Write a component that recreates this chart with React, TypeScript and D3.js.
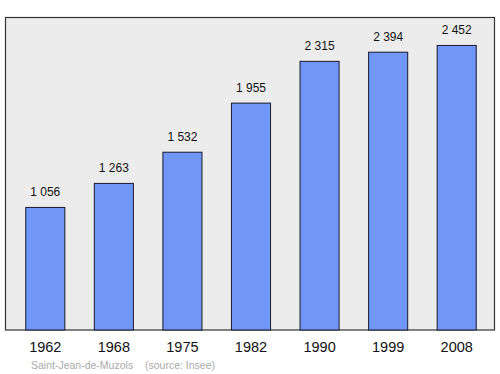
import React from "react";
import * as d3 from "d3";

const years = ["1962", "1968", "1975", "1982", "1990", "1999", "2008"];
const population = [1056, 1263, 1532, 1955, 2315, 2394, 2452];
const valueLabels = ["1 056", "1 263", "1 532", "1 955", "2 315", "2 394", "2 452"];
const footerName = "Saint-Jean-de-Muzols";
const footerSource = "(source: Insee)";

export default function App() {
  const W = 500, H = 374;
  const panel = { x: 5.5, y: 17.5, w: 489, h: 312.5 };
  const x = d3.scaleBand<string>().domain(years).range([11, 491]).paddingInner(0.43).paddingOuter(0.215);
  const y = d3.scaleLinear().domain([0, d3.max(population)! * 1.1]).range([330, 17]);
  const font = "Liberation Sans, Arial, sans-serif";
  return (
    <svg width={W} height={H} style={{ position: "absolute", left: 0, top: 0 }}>
      <rect x={panel.x} y={panel.y} width={panel.w} height={panel.h} fill="#ececec" stroke="#333" strokeWidth={1.2} />
      {population.map((v, i) => (
        <g key={years[i]}>
          <rect x={x(years[i])!} y={y(v)} width={x.bandwidth()} height={330 - y(v)} fill="#7096f8" stroke="#1a1a2a" strokeWidth={1} />
          <text x={x(years[i])! + x.bandwidth() / 2} y={y(v) - 11} textAnchor="middle" fontFamily={font} fontSize={12} fill="#111">{valueLabels[i]}</text>
          <text x={x(years[i])! + x.bandwidth() / 2} y={352} textAnchor="middle" fontFamily={font} fontSize={14.5} fill="#111">{years[i]}</text>
        </g>
      ))}
      <text x={31} y={368.5} fontFamily={font} fontSize={10.5} fill="#aaa">{footerName}</text>
      <text x={145} y={368.5} fontFamily={font} fontSize={10.5} fill="#aaa">{footerSource}</text>
    </svg>
  );
}
